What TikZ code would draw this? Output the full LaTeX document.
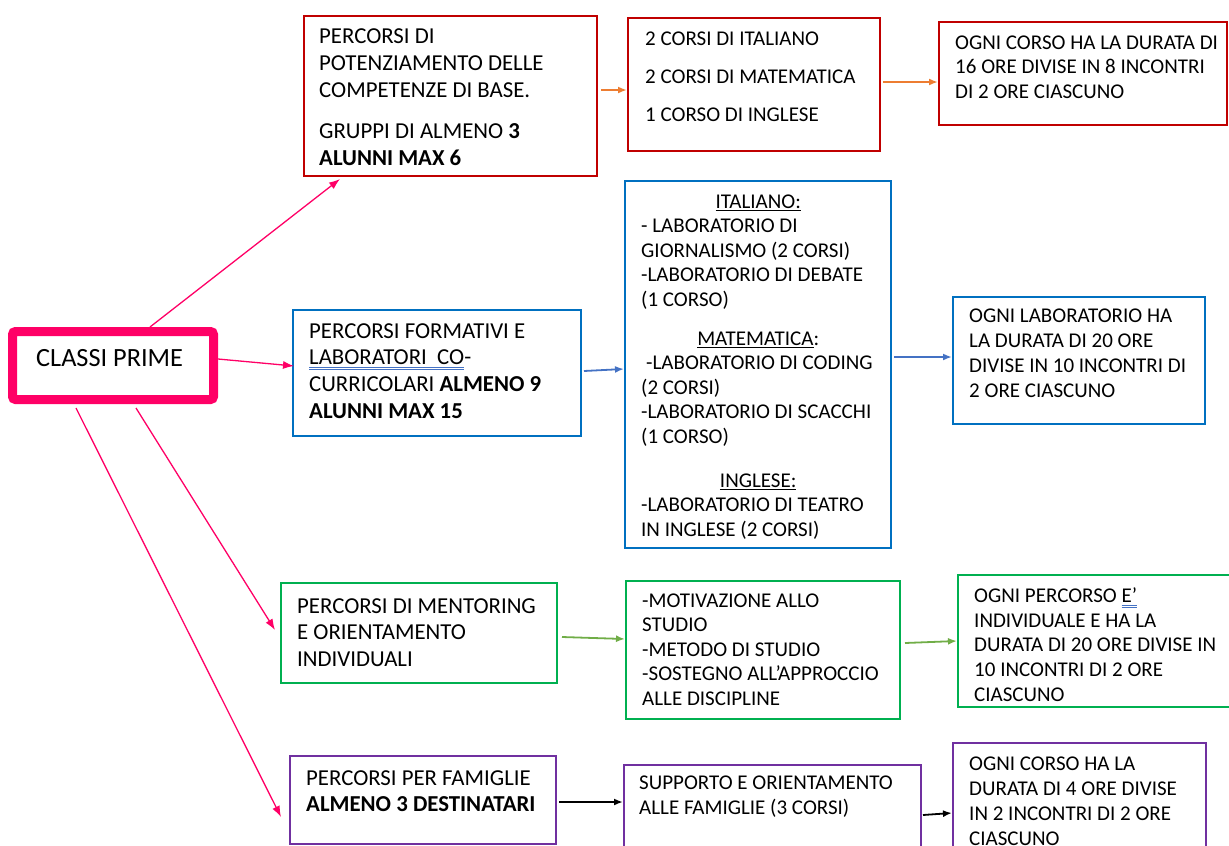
\documentclass[tikz,border=0pt]{standalone}
\usepackage{fontspec}
\setmainfont{Carlito}
\usepackage{xcolor}
\usetikzlibrary{positioning,arrows.meta}
\definecolor{cpink}{HTML}{FF0066}
\definecolor{cred}{HTML}{C00000}
\definecolor{corange}{HTML}{ED7D31}
\definecolor{cblue}{HTML}{0070C0}
\definecolor{cblueln}{HTML}{4472C4}
\definecolor{cgreen}{HTML}{00B050}
\definecolor{cgreenln}{HTML}{70AD47}
\definecolor{cpurple}{HTML}{7030A0}
\definecolor{ulblue}{HTML}{4472C4}
\newcommand{\dblul}[1]{\setbox0\hbox{#1}\rlap{\color{ulblue}\rule[-3.5pt]{\wd0}{0.8pt}}\rlap{\color{ulblue}\rule[-5.5pt]{\wd0}{0.8pt}}\box0}
\tikzset{mapbox/.style={draw,line width=2pt,inner sep=0pt,anchor=north west},
  maptext/.style={anchor=north west,inner sep=0pt,align=left,text=black,font=\fontsize{21}{#1}\selectfont},
  maptext/.default=24.5,
  bigtext/.style={anchor=north west,inner sep=0pt,align=left,text=black,font=\fontsize{22.8}{#1}\selectfont},
  link/.style={-{Latex[length=9pt,width=7pt]},line width=1.8pt},
  pinklink/.style={-{Latex[length=11pt,width=8pt]},line width=1.3pt,draw=cpink} }

\begin{document}
\begin{tikzpicture}[x=1pt,y=-1pt]
    \useasboundingbox (0,0) rectangle (1229,846);
    \clip (0,0) rectangle (1229,846);
    % centre
    \node[draw=cpink,line width=9pt,rounded corners=3pt,inner sep=0pt,anchor=north west,
          minimum width=201pt,minimum height=68pt] (cp) at (8,327) {};
    \node[anchor=north west,inner sep=0pt,font=\fontsize{26.3}{30}\selectfont] (cptext) at (36,349.5) {CLASSI PRIME};
    % boxes
    \node[mapbox,draw=cred,minimum width=293pt,minimum height=160pt] (pot) at (303,15) {};
    \node[mapbox,draw=cred,minimum width=252pt,minimum height=133pt] (corsi) at (627,17) {};
    \node[mapbox,draw=cred,minimum width=288pt,minimum height=103pt] (durpot) at (938,21) {};
    \node[mapbox,draw=cblue,minimum width=288pt,minimum height=126pt] (form) at (292,309) {};
    \node[mapbox,draw=cblue,minimum width=266pt,minimum height=367pt] (lab) at (624,180) {};
    \node[mapbox,draw=cblue,minimum width=252pt,minimum height=127pt] (durlab) at (952,296) {};
    \node[mapbox,draw=cgreen,minimum width=276pt,minimum height=100pt] (ment) at (280,582) {};
    \node[mapbox,draw=cgreen,minimum width=274pt,minimum height=138pt] (temi) at (625,580) {};
    \node[mapbox,draw=cgreen,minimum width=280pt,minimum height=132pt] (durment) at (957,574) {};
    \node[mapbox,draw=cpurple,minimum width=266pt,minimum height=88pt] (fam) at (289,755) {};
    \node[mapbox,draw=cpurple,minimum width=297pt,minimum height=100pt] (supp) at (623,764) {};
    \node[mapbox,draw=cpurple,minimum width=253pt,minimum height=120pt] (durfam) at (952,742) {};
    % texts
    \node[bigtext=27] (pottext) at (319,29) {PERCORSI DI\\POTENZIAMENTO DELLE\\COMPETENZE DI BASE.\\[14pt]GRUPPI DI ALMENO \textbf{3}\\\textbf{ALUNNI MAX 6}};
    \node[maptext] (corsitext) at (645,31.5) {2 CORSI DI ITALIANO\\[13.5pt]2 CORSI DI MATEMATICA\\[13.5pt]1 CORSO DI INGLESE};
    \node[maptext] (durpottext) at (955,35.5) {OGNI CORSO HA LA DURATA DI\\16 ORE DIVISE IN 8 INCONTRI\\DI 2 ORE CIASCUNO};
    \node[bigtext=26.7] (formtext) at (309,323) {PERCORSI FORMATIVI E\\\dblul{LABORATORI\ \ CO}-\\CURRICOLARI \textbf{ALMENO 9}\\\textbf{ALUNNI MAX 15}};
    \node[maptext] (labtext) at (641,194.5) {\makebox[234pt]{\underline{ITALIANO:}}\\- LABORATORIO DI\\GIORNALISMO (2 CORSI)\\-LABORATORIO DI DEBATE\\(1 CORSO)\\[14.5pt]\makebox[234pt]{\underline{MATEMATICA}:}\\\hspace*{5pt}-LABORATORIO DI CODING\\(2 CORSI)\\-LABORATORIO DI SCACCHI\\(1 CORSO)\\[19.5pt]\makebox[234pt]{\underline{INGLESE:}}\\-LABORATORIO DI TEATRO\\IN INGLESE (2 CORSI)};
    \node[maptext=25] (durlabtext) at (969,308.5) {OGNI LABORATORIO HA\\LA DURATA DI 20 ORE\\DIVISE IN 10 INCONTRI DI\\2 ORE CIASCUNO};
    \node[bigtext=26.5] (menttext) at (297,598) {PERCORSI DI MENTORING\\E ORIENTAMENTO\\INDIVIDUALI};
    \node[maptext] (temitext) at (642,593.5) {-MOTIVAZIONE ALLO\\STUDIO\\-METODO DI STUDIO\\-SOSTEGNO ALL’APPROCCIO\\ALLE DISCIPLINE};
    \node[maptext=24.7] (durmenttext) at (974,587.5) {OGNI PERCORSO \dblul{E’}\\INDIVIDUALE E HA LA\\DURATA DI 20 ORE DIVISE IN\\10 INCONTRI DI 2 ORE\\CIASCUNO};
    \node[bigtext=26] (famtext) at (306,770) {PERCORSI PER FAMIGLIE\\\textbf{ALMENO 3 DESTINATARI}};
    \node[maptext=25] (supptext) at (639,775.5) {SUPPORTO E ORIENTAMENTO\\ALLE FAMIGLIE (3 CORSI)};
    \node[maptext=25] (durfamtext) at (969,756.5) {OGNI CORSO HA LA\\DURATA DI 4 ORE DIVISE\\IN 2 INCONTRI DI 2 ORE\\CIASCUNO};
    % from the centre
    \draw[pinklink] ([xshift=37pt]cp.north) -- ([xshift=-110.5pt,yshift=-2pt]pot.south);
    \draw[pinklink] ([yshift=6.5pt]cp.east) -- ([xshift=2pt,yshift=7pt]form.west);
    \draw[pinklink] ([xshift=23pt,yshift=-4pt]cp.south) -- ([xshift=-5pt,yshift=3pt]ment.west);
    \draw[pinklink] ([xshift=-37pt,yshift=-4pt]cp.south) -- ([xshift=-8pt,yshift=-17pt]fam.west);
    % along the rows
    \draw[link,corange] ([xshift=3pt,yshift=6pt]pot.east) -- ([yshift=-5.5pt]corsi.west);
    \draw[link,corange] ([xshift=2pt,yshift=2.5pt]corsi.east) -- ([yshift=-8.5pt]durpot.west);
    \draw[link,cblueln] ([xshift=2pt,yshift=2pt]form.east) -- ([yshift=-4.5pt]lab.west);
    \draw[link,cblueln] ([xshift=2pt,yshift=7.5pt]lab.east) -- ([yshift=3.5pt]durlab.west);
    \draw[link,cgreenln] ([xshift=4pt,yshift=-4pt]ment.east) -- ([yshift=11pt]temi.west);
    \draw[link,cgreenln] ([xshift=4pt,yshift=7pt]temi.east) -- (durment.west);
    \draw[link,black] ([xshift=2pt,yshift=-2pt]fam.east) -- ([yshift=13pt]supp.west);
    \draw[link,black] ([xshift=1pt]supp.east) -- ([yshift=-10pt]durfam.west);
\end{tikzpicture}
\end{document}
